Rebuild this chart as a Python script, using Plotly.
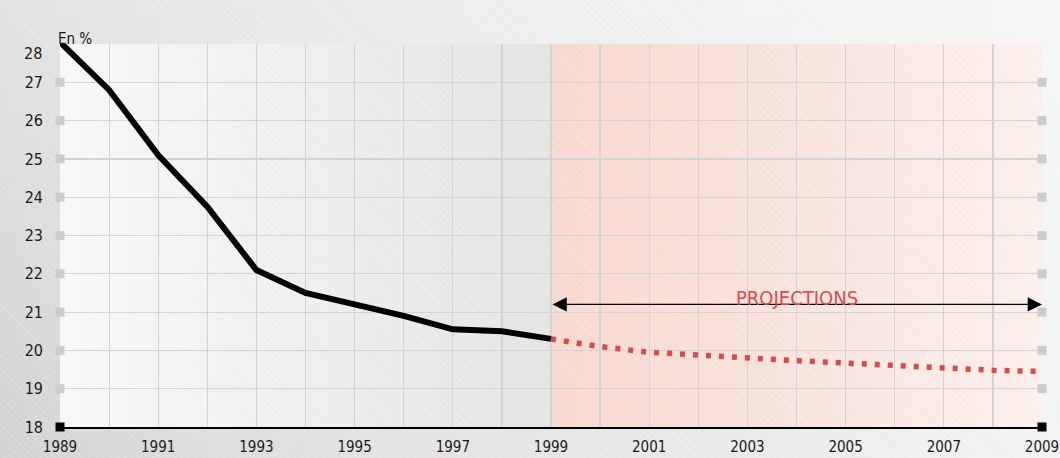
import plotly.graph_objects as go

# ---- data ----
obs_years = [1989, 1990, 1991, 1992, 1993, 1994, 1995, 1996, 1997, 1998, 1999]
obs_values = [28.05, 26.8, 25.1, 23.75, 22.1, 21.5, 21.2, 20.9, 20.55, 20.5, 20.3]
proj_years = [1999, 2000, 2001, 2002, 2003, 2004, 2005, 2006, 2007, 2008, 2009]
proj_values = [20.3, 20.1, 19.95, 19.87, 19.8, 19.73, 19.67, 19.6, 19.53, 19.48, 19.45]
y_ticks = [18, 19, 20, 21, 22, 23, 24, 25, 26, 27]
x_tick_labels = [1989, 1991, 1993, 1995, 1997, 1999, 2001, 2003, 2005, 2007, 2009]
unit_label = "En %"
proj_label = "PROJECTIONS"

FONT = "Liberation Sans Narrow, Arial Narrow, DejaVu Sans Condensed, sans-serif"
W, H = 1060, 458
L, R, T, B = 60, 1042, 44, 427
x0, x1 = obs_years[0], proj_years[-1]
ymin, ymax = 18, 28
xdom = [L / W, R / W]
ydom = [(H - B) / H, (H - T) / H]
all_years = obs_years + proj_years[1:]
x_text = [str(y) if y in x_tick_labels else "" for y in all_years]
GRID = "#d3d3d3"

fig = go.Figure()

# ---- page background (subplot xy, full paper) ----
rect_x = [0, 1, 1, 0, 0]
rect_y = [0, 0, 1, 1, 0]
fig.add_trace(go.Scatter(x=rect_x, y=rect_y, fill="toself", mode="none",
                         fillgradient=dict(type="horizontal",
                                           colorscale=[[0, "#d2d2d2"], [0.055, "#d6d6d6"],
                                                       [0.35, "#e2e2e2"], [1, "#f2f2f2"]]),
                         hoverinfo="skip", showlegend=False, xaxis="x", yaxis="y"))
fig.add_trace(go.Scatter(x=rect_x, y=rect_y, fill="toself", mode="none",
                         fillgradient=dict(type="vertical",
                                           colorscale=[[0, "rgba(255,255,255,0)"],
                                                       [1, "rgba(255,255,255,0.35)"]]),
                         hoverinfo="skip", showlegend=False, xaxis="x", yaxis="y"))
fig.add_trace(go.Scatter(x=rect_x, y=rect_y, fill="toself", mode="none",
                         fillcolor="rgba(0,0,0,0)",
                         fillpattern=dict(shape="\\", fgcolor="rgba(255,255,255,0.4)",
                                          bgcolor="rgba(0,0,0,0)", size=5, solidity=0.2),
                         hoverinfo="skip", showlegend=False, xaxis="x", yaxis="y"))

# ---- plot panels (subplot x2y2) ----
def panel(xa, xb, c0, c1):
    px = [xa, xb, xb, xa, xa]
    py = [ymin, ymin, ymax, ymax, ymin]
    fig.add_trace(go.Scatter(x=px, y=py, fill="toself", mode="none",
                             fillgradient=dict(type="horizontal", colorscale=[[0, c0], [1, c1]]),
                             hoverinfo="skip", showlegend=False, xaxis="x2", yaxis="y2"))
    fig.add_trace(go.Scatter(x=px, y=py, fill="toself", mode="none",
                             fillcolor="rgba(0,0,0,0)",
                             fillpattern=dict(shape="\\", fgcolor="rgba(255,255,255,0.4)",
                                              bgcolor="rgba(0,0,0,0)", size=5, solidity=0.2),
                             hoverinfo="skip", showlegend=False, xaxis="x2", yaxis="y2"))

panel(obs_years[0], obs_years[-1], "#f8f8f8", "#e4e4e4")
panel(proj_years[0], proj_years[-1], "#f7d8ce", "#fbefeb")

# ---- data (subplot x3y3) ----
fig.add_trace(go.Scatter(x=proj_years, y=proj_values, mode="lines",
                         line=dict(color="#d64c4c", width=5.5, dash="5px,8px"),
                         cliponaxis=False, showlegend=False, xaxis="x3", yaxis="y3"))
fig.add_trace(go.Scatter(x=obs_years, y=obs_values, mode="lines",
                         line=dict(color="#000000", width=6),
                         cliponaxis=False, showlegend=False, xaxis="x3", yaxis="y3"))
# gray tick squares
sq_y = y_ticks[1:]
fig.add_trace(go.Scatter(x=[x0] * len(sq_y) + [x1] * len(sq_y), y=sq_y + sq_y, mode="markers",
                         marker=dict(symbol="square", size=9, color="#cccccc"),
                         cliponaxis=False, showlegend=False, xaxis="x3", yaxis="y3"))
fig.add_trace(go.Scatter(x=[x0, x1], y=[ymin, ymin], mode="markers",
                         marker=dict(symbol="square", size=9, color="#000000"),
                         cliponaxis=False, showlegend=False, xaxis="x3", yaxis="y3"))

hidden = dict(visible=False, showgrid=False, zeroline=False, fixedrange=True, automargin=False)
fig.update_layout(
    width=W, height=H,
    margin=dict(l=0, r=0, t=0, b=0, pad=0, autoexpand=False),
    paper_bgcolor="#e6e6e6",
    plot_bgcolor="rgba(0,0,0,0)",
    font=dict(family=FONT, color="#1a1a1a", size=15),
    xaxis=dict(domain=[0, 1], range=[0, 1], anchor="y", **hidden),
    yaxis=dict(domain=[0, 1], range=[0, 1], anchor="x", **hidden),
    xaxis2=dict(domain=xdom, range=[x0, x1], anchor="y2", **hidden),
    yaxis2=dict(domain=ydom, range=[ymin, ymax], anchor="x2", **hidden),
    xaxis3=dict(domain=xdom, range=[x0, x1], anchor="y3", automargin=False,
                tickvals=all_years, ticktext=x_text,
                ticks="", ticklabelstandoff=5, ticklabeloverflow="allow",
                showgrid=True, gridcolor=GRID, gridwidth=1.2,
                showline=True, linecolor="#000000", linewidth=1.6,
                zeroline=False, tickfont=dict(size=15), fixedrange=True),
    yaxis3=dict(domain=ydom, range=[ymin, ymax], anchor="x3", automargin=False,
                tickvals=y_ticks, ticktext=[str(v) for v in y_ticks],
                ticks="", ticklabelstandoff=16, ticklabeloverflow="allow",
                showgrid=True, gridcolor=GRID, gridwidth=1.2,
                showline=False, zeroline=False, tickfont=dict(size=16), fixedrange=True),
)

# top tick label shifted down as in original
fig.add_annotation(x=x0, y=ymax, xref="x3", yref="y3", text=str(ymax), showarrow=False,
                   xanchor="right", yanchor="middle", xshift=-16, yshift=-9,
                   font=dict(size=16, family=FONT, color="#1a1a1a"))
# unit label
fig.add_annotation(x=x0, y=ymax, xref="x3", yref="y3", text=unit_label, showarrow=False,
                   xanchor="left", yanchor="bottom", xshift=-4, yshift=-6,
                   font=dict(size=15, family=FONT, color="#1a1a1a"))
# projection arrow
arrow_y = 21.2
fig.add_annotation(x=proj_years[-1], y=arrow_y, ax=proj_years[0], ay=arrow_y,
                   xref="x3", yref="y3", axref="x3", ayref="y3", text="",
                   showarrow=True, arrowhead=2, arrowside="end+start",
                   arrowwidth=1.3, arrowsize=2.2, arrowcolor="#000000")
fig.add_annotation(x=(proj_years[0] + proj_years[-1]) / 2, y=arrow_y, xref="x3", yref="y3",
                   text=proj_label, showarrow=False, xanchor="center", yanchor="bottom",
                   yshift=-8, font=dict(size=20, family=FONT, color="#dc4a50"))

fig.write_html(
    "out.html",
    config={"displayModeBar": False, "staticPlot": True},
    post_script="document.documentElement.style.margin='0';"
                "document.body.style.margin='0';"
                "document.body.style.overflow='hidden';",
)
